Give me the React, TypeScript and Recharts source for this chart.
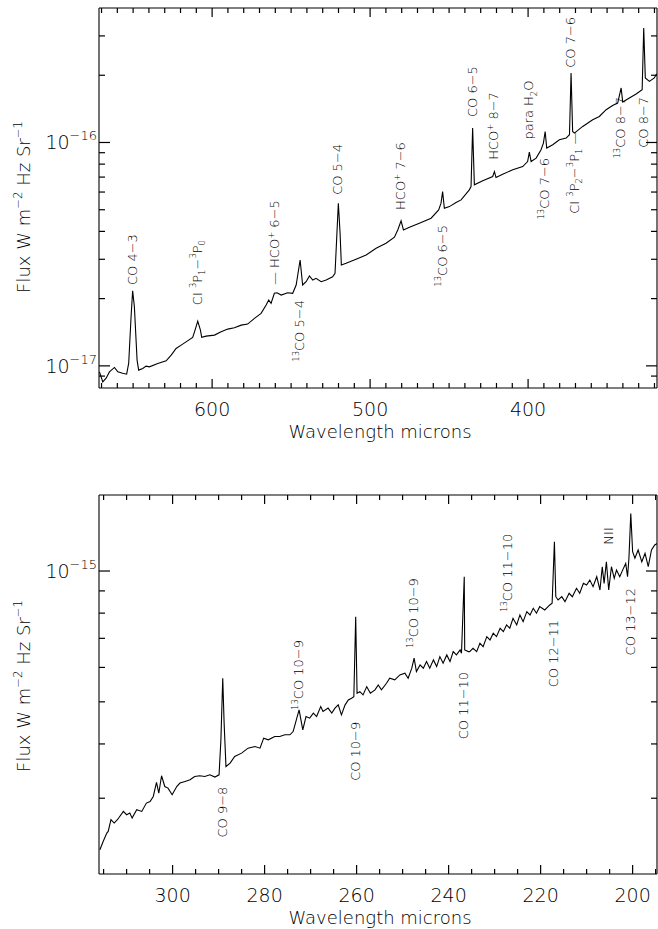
import React from "react"
import { LineChart, Line, XAxis, YAxis, ReferenceDot } from "recharts"

// Upper panel spectrum: wavelength in microns, flux in units of 1e-17 W m^-2 Hz^-1 sr^-1
const topWavelength = [
  671.3, 669.2, 667.1, 665.0, 661.8, 659.7, 656.6, 654.1, 652.8, 651.3,
  650.3, 649.2, 647.5, 646.5, 643.9, 641.8, 639.7, 634.4, 629.1, 625.9,
  622.8, 619.6, 616.5, 612.3, 610.8, 609.1, 607.4, 606.6, 603.8, 598.5,
  594.3, 590.1, 585.9, 581.6, 577.5, 573.2, 569.0, 565.8, 564.2, 562.7,
  560.6, 558.9, 556.3, 552.2, 549.0, 546.8, 544.3, 542.7, 540.5, 538.4,
  536.3, 534.2, 531.0, 527.8, 523.7, 522.2, 521.1, 520.1, 519.0, 518.2,
  515.2, 508.9, 502.5, 496.2, 489.9, 484.6, 482.5, 480.4, 478.9, 475.1,
  468.8, 461.4, 456.6, 455.1, 454.1, 453.0, 449.8, 445.6, 442.4, 437.2,
  436.1, 435.1, 434.0, 428.7, 422.4, 421.3, 420.3, 416.1, 409.7, 403.4,
  400.3, 399.2, 398.1, 394.9, 391.8, 390.3, 389.2, 388.2, 384.4, 380.2,
  375.9, 373.8, 372.8, 371.8, 370.7, 365.4, 359.1, 354.9, 350.6, 346.5,
  343.3, 341.1, 340.1, 335.9, 331.6, 327.8, 326.8, 325.8, 323.2, 320.1,
  318.6,
]
const topFlux = [
  0.94, 0.848, 0.881, 0.94, 0.984, 0.94, 0.927, 0.918, 1.028, 1.659,
  2.169, 1.839, 1.061, 0.957, 0.973, 0.997, 0.99, 1.025, 1.053, 1.117,
  1.197, 1.238, 1.281, 1.341, 1.446, 1.586, 1.446, 1.341, 1.359, 1.373,
  1.42, 1.461, 1.48, 1.522, 1.538, 1.632, 1.718, 1.872, 1.971, 1.905,
  2.112, 2.125, 2.075, 2.125, 2.112, 2.301, 2.978, 2.301, 2.381, 2.525,
  2.423, 2.466, 2.381, 2.423, 2.507, 2.596, 3.789, 5.35, 3.925, 2.829,
  2.879, 3.0, 3.136, 3.362, 3.539, 3.766, 4.059, 4.457, 4.059, 4.174,
  4.351, 4.581, 4.992, 5.35, 6.03, 5.08, 5.164, 5.382, 5.534, 6.136,
  6.348, 11.6, 6.461, 6.735, 7.04, 7.413, 6.967, 7.216, 7.543, 7.805,
  8.219, 9.057, 8.219, 8.511, 9.276, 9.938, 11.2, 9.439, 9.765, 10.28,
  10.46, 10.83, 20.47, 11.2, 11.02, 11.8, 12.65, 13.08, 14.02, 14.65,
  15.02, 17.54, 15.18, 15.82, 16.48, 17.23, 32.58, 19.45, 18.78, 19.45,
  20.3,
]

const topXTicks = [
  320, 330, 340, 350, 360, 370, 380, 390, 400, 410, 420, 430, 440, 450, 460, 470, 480, 490,
  500, 510, 520, 530, 540, 550, 560, 570, 580, 590, 600, 610, 620, 630, 640, 650, 660, 670,
]
const topXLabels = [400, 500, 600]
const topYTicks = [
  9e-18, 1e-17, 2e-17, 3e-17, 4e-17, 5e-17, 6e-17, 7e-17, 8e-17, 9e-17, 1e-16, 2e-16, 3e-16,
]

// Line identifications, upper panel (flux of label end, units of 1e-17)
const topLineNames = [
  "CO 4−3", "CI ^{3}P_{1}−^{3}P_{0}", "— HCO^{+} 6−5", "^{13}CO 5−4", "CO 5−4",
  "HCO^{+} 7−6", "^{13}CO 6−5", "CO 6−5", "HCO^{+} 8−7", "para H_{2}O",
  "^{13}CO 7−6", "CO 7−6", "CI ^{3}P_{2}−^{3}P_{1} —", "^{13}CO 8−7", "CO 8−7",
]
const topLineWavelength = [650.3, 609.1, 560.0, 544.3, 520.1, 480.4, 454.1, 435.1, 421.3, 399.2, 389.2, 372.8, 370.4, 341.1, 326.8]
const topLineFlux = [2.3, 1.87, 2.3, 1.97, 5.83, 4.99, 4.27, 13.0, 8.36, 10.3, 8.53, 21.6, 11.2, 16.0, 16.0]
const topLineSide = [
  "above", "above", "above", "below", "above", "above", "below", "above", "above", "above",
  "below", "above", "below", "below", "below",
]

// Lower panel spectrum: flux in units of 1e-16 W m^-2 Hz^-1 sr^-1
const botWavelength = [
  315.8, 315.1, 314.3, 314.0, 313.4, 312.7, 312.0, 310.7, 310.0, 309.3,
  308.8, 307.8, 306.7, 305.7, 304.9, 304.2, 303.5, 303.0, 302.4, 301.7,
  301.0, 300.1, 299.1, 298.4, 297.3, 296.2, 295.2, 294.1, 293.0, 291.9,
  290.8, 289.9, 289.5, 289.1, 288.8, 288.4, 287.5, 286.5, 285.0, 283.6,
  282.1, 281.0, 280.2, 279.2, 277.8, 276.7, 275.6, 274.5, 273.8, 273.0,
  272.5, 271.7, 271.0, 270.2, 269.4, 268.7, 267.8, 267.3, 266.2, 265.4,
  264.7, 264.0, 263.3, 262.5, 261.8, 261.1, 260.6, 260.2, 259.9, 259.3,
  258.6, 257.8, 257.0, 256.0, 255.3, 254.6, 253.5, 252.8, 251.7, 250.6,
  249.5, 248.8, 248.0, 247.5, 247.0, 246.2, 245.5, 244.8, 244.1, 243.3,
  242.6, 241.9, 241.2, 240.4, 239.7, 239.0, 238.3, 237.5, 237.2, 236.6,
  236.5, 235.7, 235.4, 234.7, 233.9, 233.2, 232.5, 231.7, 231.0, 230.3,
  229.6, 228.8, 228.1, 227.4, 226.7, 226.0, 225.2, 224.5, 223.8, 223.0,
  222.3, 221.6, 220.9, 220.2, 219.1, 218.0, 217.5, 217.0, 216.7, 216.2,
  215.4, 214.7, 213.8, 213.1, 212.2, 211.5, 210.7, 210.0, 209.3, 208.6,
  207.8, 207.1, 206.6, 206.2, 205.7, 205.2, 204.6, 204.0, 203.5, 202.8,
  202.0, 201.5, 201.1, 200.8, 200.4, 200.0, 199.5, 198.8, 198.0, 197.3,
  196.6, 195.9, 195.2, 194.6,
]
const botFlux = [
  2.284, 2.386, 2.495, 2.516, 2.677, 2.63, 2.677, 2.797, 2.749, 2.773,
  2.7, 2.822, 2.797, 2.924, 2.949, 3.028, 3.262, 3.083, 3.38, 3.192,
  3.165, 3.056, 3.192, 3.251, 3.279, 3.308, 3.366, 3.38, 3.366, 3.396,
  3.356, 3.396, 4.088, 5.667, 4.466, 3.549, 3.614, 3.742, 3.81, 3.911,
  3.945, 3.911, 4.125, 4.088, 4.16, 4.16, 4.198, 4.198, 4.272, 4.586,
  4.792, 4.311, 4.625, 4.586, 4.709, 4.625, 4.875, 4.75, 4.836, 4.709,
  4.836, 4.92, 4.667, 4.92, 5.051, 5.098, 5.14, 7.852, 5.234, 5.279,
  5.187, 5.42, 5.234, 5.326, 5.469, 5.326, 5.518, 5.667, 5.617, 5.767,
  5.819, 5.667, 5.975, 6.3, 5.868, 6.081, 5.975, 6.188, 5.975, 6.244,
  6.026, 6.353, 6.136, 6.411, 6.188, 6.524, 6.411, 6.582, 6.468, 9.703,
  6.582, 6.524, 6.524, 6.642, 6.524, 6.82, 6.699, 7.063, 6.94, 7.192,
  7.063, 7.384, 7.253, 7.515, 7.384, 7.785, 7.515, 7.923, 7.645, 8.062,
  7.923, 8.209, 7.995, 8.279, 8.134, 8.353, 8.427, 11.68, 8.728, 8.577,
  8.728, 8.501, 8.887, 8.728, 9.125, 8.887, 9.369, 9.286, 9.535, 9.203,
  9.703, 9.043, 10.23, 9.369, 10.5, 9.043, 10.23, 9.621, 10.05, 9.703,
  10.14, 10.41, 9.703, 10.7, 13.57, 11.08, 10.7, 11.18, 10.5, 10.98,
  10.23, 11.18, 11.48, 11.58,
]

const botXTicks = [
  195, 200, 205, 210, 215, 220, 225, 230, 235, 240, 245, 250, 255,
  260, 265, 270, 275, 280, 285, 290, 295, 300, 305, 310, 315,
]
const botXLabels = [200, 220, 240, 260, 280, 300]
const botYTicks = [3e-16, 4e-16, 5e-16, 6e-16, 7e-16, 8e-16, 9e-16, 1e-15]

// Line identifications, lower panel (flux of label end, units of 1e-16)
const botLineNames = [
  "CO 9−8", "^{13}CO 10−9", "CO 10−9", "^{13}CO 10−9", "CO 11−10",
  "^{13}CO 11−10", "CO 12−11", "NII", "CO 13−12",
]
const botLineWavelength = [289.1, 272.5, 260.2, 247.5, 236.6, 227.1, 217.0, 205.2, 200.4]
const botLineFlux = [3.19, 4.79, 4.5, 6.65, 5.86, 8.05, 7.72, 11.5, 9.14]
const botLineSide = ["below", "above", "below", "above", "below", "above", "below", "above", "below"]

const FONT = "DejaVu Sans"
const WEIGHT = 200
const INK = "#000"

type Mark = { name: string; wl: number; flux: number; side: string }

const topRows = topWavelength.map((wl, i) => ({ wl, flux: topFlux[i] * 1e-17 }))
const botRows = botWavelength.map((wl, i) => ({ wl, flux: botFlux[i] * 1e-16 }))
const topMarks: Mark[] = topLineNames.map((name, i) => ({
  name,
  wl: topLineWavelength[i],
  flux: topLineFlux[i] * 1e-17,
  side: topLineSide[i],
}))
const botMarks: Mark[] = botLineNames.map((name, i) => ({
  name,
  wl: botLineWavelength[i],
  flux: botLineFlux[i] * 1e-16,
  side: botLineSide[i],
}))

// "^{..}" superscript, "_{..}" subscript
function richSpans(s: string, size: number) {
  const parts: { t: string; k: string }[] = []
  const re = /(\^|_)\{([^}]*)\}/g
  let last = 0
  let m: RegExpExecArray | null
  while ((m = re.exec(s))) {
    if (m.index > last) parts.push({ t: s.slice(last, m.index), k: "n" })
    parts.push({ t: m[2], k: m[1] === "^" ? "sup" : "sub" })
    last = re.lastIndex
  }
  if (last < s.length) parts.push({ t: s.slice(last), k: "n" })

  let shift = 0
  return parts.map((p, i) => {
    const target = p.k === "sup" ? -0.42 * size : p.k === "sub" ? 0.28 * size : 0
    const dy = target - shift
    shift = target
    return (
      <tspan key={i} dy={dy} fontSize={p.k === "n" ? size : size * 0.65}>
        {p.t}
      </tspan>
    )
  })
}

function LineLabel({ cx, cy, text, side }: { cx?: number; cy?: number; text: string; side: string }) {
  if (cx == null || cy == null || isNaN(cx) || isNaN(cy)) return null
  return (
    <g transform={`translate(${cx + 4},${cy}) rotate(-90)`}>
      <text
        x={0}
        y={0}
        textAnchor={side === "above" ? "start" : "end"}
        fontFamily={FONT}
        fontWeight={WEIGHT}
        fontSize={13}
        fill={INK}
        style={{ whiteSpace: "pre" }}
      >
        {richSpans(text, 13)}
      </text>
    </g>
  )
}

// short inward tick, anchored at a point on the frame
function TickMark({ cx, cy, dx, dy }: { cx?: number; cy?: number; dx: number; dy: number }) {
  if (cx == null || cy == null || isNaN(cx) || isNaN(cy)) return null
  return <line x1={cx} y1={cy} x2={cx + dx} y2={cy + dy} stroke={INK} strokeWidth={1.2} />
}

function renderXLabel(p: any, labels: number[]) {
  const v = p.payload.value
  if (!labels.includes(v)) return <g />
  return (
    <text x={p.x} y={Number(p.y) + 28} textAnchor="middle" fontFamily={FONT} fontWeight={WEIGHT} fontSize={19} fill={INK}>
      {v}
    </text>
  )
}

function isDecade(v: number) {
  const e = Math.log10(v)
  return Math.abs(e - Math.round(e)) < 1e-6
}

function renderYLabel(p: any) {
  const v = p.payload.value
  if (!isDecade(v)) return <g />
  return (
    <text x={Number(p.x) - 2} y={Number(p.y) + 7} textAnchor="end" fontFamily={FONT} fontWeight={WEIGHT} fontSize={19} fill={INK}>
      10
      <tspan dy={-9} fontSize={13}>
        {"−" + String(-Math.round(Math.log10(v)))}
      </tspan>
    </text>
  )
}

type PanelProps = {
  rows: { wl: number; flux: number }[]
  height: number
  margin: { top: number; right: number; bottom: number; left: number }
  xDomain: [number, number]
  xTicks: number[]
  xLabels: number[]
  yDomain: [number, number]
  yTicks: number[]
  marks: Mark[]
  yTitleY: number
}

function SpectrumPanel({ rows, height, margin, xDomain, xTicks, xLabels, yDomain, yTicks, marks, yTitleY }: PanelProps) {
  const frame = { stroke: INK, strokeWidth: 1.1 }
  const [xLo, xHi] = xDomain
  const [yLo, yHi] = yDomain
  return (
    <div style={{ width: 658, height }}>
      <LineChart width={658} height={height} data={rows} margin={margin}>
        <XAxis
          xAxisId="b"
          type="number"
          dataKey="wl"
          domain={xDomain}
          reversed
          allowDataOverflow
          ticks={xTicks}
          interval={0}
          height={1}
          tickSize={0}
          tickMargin={0}
          tickLine={false}
          axisLine={frame}
          tick={(p: any) => renderXLabel(p, xLabels)}
          label={(p: any) => {
            const vb = p.viewBox
            return (
              <text
                x={vb.x + vb.width / 2 + 2}
                y={vb.y + 50}
                textAnchor="middle"
                fontFamily={FONT}
                fontWeight={WEIGHT}
                fontSize={18}
                fill={INK}
              >
                Wavelength microns
              </text>
            )
          }}
        />
        <XAxis
          xAxisId="t"
          orientation="top"
          type="number"
          dataKey="wl"
          domain={xDomain}
          reversed
          allowDataOverflow
          ticks={xTicks}
          interval={0}
          height={1}
          tickSize={0}
          tickMargin={0}
          tickLine={false}
          axisLine={frame}
          tick={false}
        />
        <YAxis
          yAxisId="l"
          type="number"
          scale="log"
          domain={yDomain}
          allowDataOverflow
          ticks={yTicks}
          interval={0}
          width={1}
          tickSize={0}
          tickMargin={0}
          tickLine={false}
          axisLine={frame}
          tick={(p: any) => renderYLabel(p)}
          label={() => (
            <g transform={`translate(30,${yTitleY}) rotate(-90)`}>
              <text
                x={0}
                y={0}
                textAnchor="middle"
                fontFamily={FONT}
                fontWeight={WEIGHT}
                fontSize={18}
                fill={INK}
                style={{ whiteSpace: "pre" }}
              >
                {richSpans("Flux W m^{−2} Hz Sr^{−1}", 18)}
              </text>
            </g>
          )}
        />
        <YAxis
          yAxisId="r"
          orientation="right"
          type="number"
          scale="log"
          domain={yDomain}
          allowDataOverflow
          ticks={yTicks}
          interval={0}
          width={1}
          tickSize={0}
          tickMargin={0}
          tickLine={false}
          axisLine={frame}
          tick={false}
        />
        <Line
          xAxisId="b"
          yAxisId="l"
          dataKey="flux"
          type="linear"
          stroke={INK}
          strokeWidth={1.1}
          dot={false}
          activeDot={false}
          isAnimationActive={false}
        />

        {/* inward ticks on bottom and top edges */}
        {xTicks.map((v) => {
          const len = xLabels.includes(v) ? 9 : 5
          return (
            <React.Fragment key={`x${v}`}>
              <ReferenceDot
                xAxisId="b"
                yAxisId="l"
                x={v}
                y={yLo}
                r={0}
                ifOverflow="visible"
                shape={(p: any) => <TickMark cx={p.cx} cy={p.cy} dx={0} dy={-len} />}
              />
              <ReferenceDot
                xAxisId="b"
                yAxisId="l"
                x={v}
                y={yHi}
                r={0}
                ifOverflow="visible"
                shape={(p: any) => <TickMark cx={p.cx} cy={p.cy} dx={0} dy={len} />}
              />
            </React.Fragment>
          )
        })}

        {/* inward ticks on left and right edges (x axis is reversed: xHi is the left edge) */}
        {yTicks.map((v) => {
          const len = isDecade(v) ? 11 : 6
          return (
            <React.Fragment key={`y${v}`}>
              <ReferenceDot
                xAxisId="b"
                yAxisId="l"
                x={xHi}
                y={v}
                r={0}
                ifOverflow="visible"
                shape={(p: any) => <TickMark cx={p.cx} cy={p.cy} dx={len} dy={0} />}
              />
              <ReferenceDot
                xAxisId="b"
                yAxisId="l"
                x={xLo}
                y={v}
                r={0}
                ifOverflow="visible"
                shape={(p: any) => <TickMark cx={p.cx} cy={p.cy} dx={-len} dy={0} />}
              />
            </React.Fragment>
          )
        })}

        {marks.map((m, i) => (
          <ReferenceDot
            key={`m${i}`}
            xAxisId="b"
            yAxisId="l"
            x={m.wl}
            y={m.flux}
            r={0}
            ifOverflow="visible"
            shape={(p: any) => <LineLabel cx={p.cx} cy={p.cy} text={m.name} side={m.side} />}
          />
        ))}
      </LineChart>
    </div>
  )
}

export default function App() {
  return (
    <div style={{ position: "absolute", left: 0, top: 0, width: 658, height: 929, background: "#fff" }}>
      <SpectrumPanel
        rows={topRows}
        height={470}
        margin={{ top: 7, right: 0, bottom: 81, left: 98 }}
        xDomain={[318.4, 671.6]}
        xTicks={topXTicks}
        xLabels={topXLabels}
        yDomain={[7.96e-18, 4.0e-16]}
        yTicks={topYTicks}
        marks={topMarks}
        yTitleY={207}
      />
      <SpectrumPanel
        rows={botRows}
        height={459}
        margin={{ top: 24, right: 0, bottom: 54, left: 98 }}
        xDomain={[194.7, 316.0]}
        xTicks={botXTicks}
        xLabels={botXLabels}
        yDomain={[2.008e-16, 1.496e-15]}
        yTicks={botYTicks}
        marks={botMarks}
        yTitleY={216}
      />
    </div>
  )
}
